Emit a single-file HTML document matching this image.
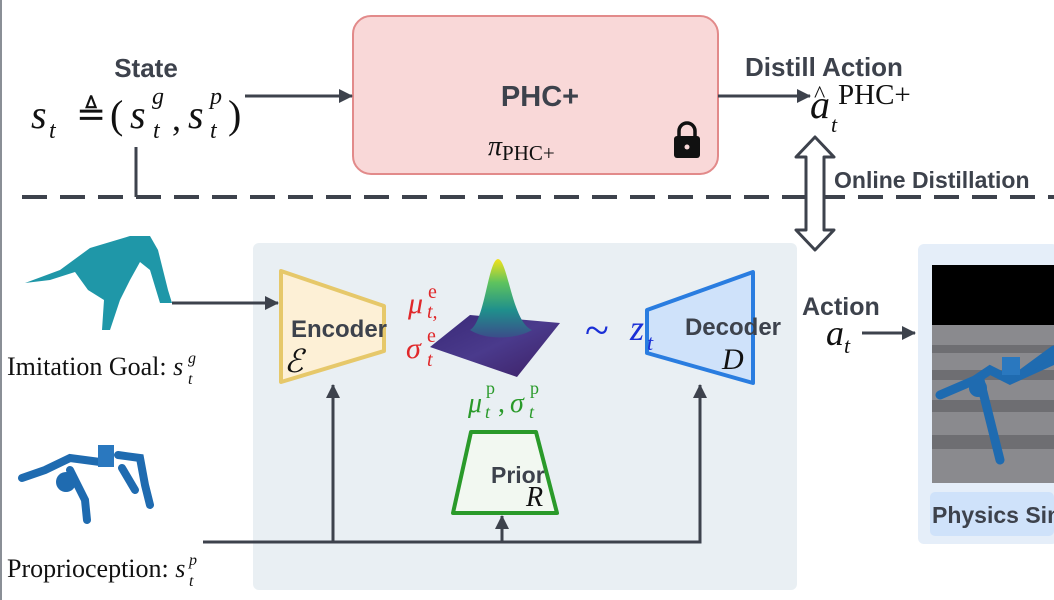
<!DOCTYPE html>
<html><head><meta charset="utf-8"><style>
html,body{margin:0;padding:0;background:#fff;}
svg{display:block;}
.sans{font-family:"Liberation Sans",sans-serif;font-weight:bold;fill:#3d424c;}
.serif{font-family:"Liberation Serif",serif;fill:#111;}
.it{font-style:italic;}
</style></head><body>
<svg width="1054" height="600" viewBox="0 0 1054 600" xmlns="http://www.w3.org/2000/svg">
<defs>
<marker id="ah2" markerWidth="14" markerHeight="14" refX="13" refY="7" orient="auto" markerUnits="userSpaceOnUse">
<path d="M0,0 L14,7 L0,14 z" fill="#3d424c"/></marker>
<linearGradient id="peak" x1="0" y1="0" x2="0" y2="1">
<stop offset="0" stop-color="#f3e21a"/><stop offset="0.3" stop-color="#5ec35e"/><stop offset="0.65" stop-color="#1f8f8c"/><stop offset="1" stop-color="#3b4d8a"/></linearGradient>
<linearGradient id="base" x1="0" y1="0" x2="1" y2="1">
<stop offset="0" stop-color="#3a2a78"/><stop offset="0.5" stop-color="#4a3a8c"/><stop offset="1" stop-color="#3d1f64"/></linearGradient>
</defs>
<rect x="0" y="0" width="2" height="600" fill="#8a8f96"/>
<!-- top -->
<rect x="353" y="16" width="365" height="158" rx="18" fill="#f9d8d8" stroke="#e28a8a" stroke-width="2"/>
<text x="540" y="106" text-anchor="middle" class="sans" font-size="29">PHC+</text>
<text x="488" y="155" class="serif it" font-size="28">π<tspan font-style="normal" font-size="21" dy="5">PHC+</tspan></text>
<g fill="#111"><rect x="674" y="136" width="26" height="22" rx="3"/><path d="M679,137 v-6 a8,8 0 0 1 16,0 v6" fill="none" stroke="#111" stroke-width="3.5"/><circle cx="687" cy="147" r="2.5" fill="#f9d8d8"/></g>
<text x="146" y="77" text-anchor="middle" class="sans" font-size="26">State</text>
<text x="31" y="128" class="serif it" font-size="40">s</text>
<text x="49" y="138" class="serif it" font-size="24">t</text>
<text x="76" y="126" class="serif" font-size="36">≜</text>
<text x="110" y="128" class="serif" font-size="40">(</text>
<text x="130" y="128" class="serif it" font-size="40">s</text>
<text x="152" y="104" class="serif it" font-size="24">g</text><text x="153" y="138" class="serif it" font-size="24">t</text>
<text x="172" y="130" class="serif" font-size="36">,</text>
<text x="188" y="128" class="serif it" font-size="40">s</text>
<text x="210" y="104" class="serif it" font-size="24">p</text><text x="210" y="138" class="serif it" font-size="24">t</text>
<text x="228" y="128" class="serif" font-size="40">)</text>
<line x1="245" y1="96" x2="352" y2="96" stroke="#3d424c" stroke-width="3" marker-end="url(#ah2)"/>
<line x1="136" y1="147" x2="136" y2="197" stroke="#3d424c" stroke-width="3"/>
<line x1="718" y1="96" x2="810" y2="96" stroke="#3d424c" stroke-width="3" marker-end="url(#ah2)"/>
<text x="745" y="76" class="sans" font-size="26">Distill Action</text>
<text x="810" y="118" class="serif it" font-size="40">a</text>
<text x="814" y="102" class="serif" font-size="24">^</text>
<text x="838" y="104" class="serif" font-size="29">PHC+</text>
<text x="831" y="132" class="serif it" font-size="22">t</text>
<line x1="22" y1="197" x2="1054" y2="197" stroke="#3d424c" stroke-width="4" stroke-dasharray="25 13"/>
<path d="M815,137 L834,157 L824,157 L824,230 L834,230 L815,250 L796,230 L806,230 L806,157 L796,157 Z" fill="#fff" stroke="#3d424c" stroke-width="3" stroke-linejoin="round"/>
<text x="834" y="188" class="sans" font-size="23">Online Distillation</text>
<!-- panel -->
<rect x="253" y="243" width="544" height="347" rx="6" fill="#e9eff3"/>
<polygon points="281,271 384,306 384,351 281,382" fill="#fdf0d6" stroke="#e6c86a" stroke-width="4" stroke-linejoin="round"/>
<text x="339" y="337" text-anchor="middle" class="sans" font-size="24">Encoder</text>
<text x="284" y="372" class="serif it" font-size="32">ℰ</text>
<polygon points="647,310 753,272 753,383 647,353" fill="#cfe2fa" stroke="#2a7de0" stroke-width="4" stroke-linejoin="round"/>
<text x="733" y="335" text-anchor="middle" class="sans" font-size="24">Decoder</text>
<text x="722" y="369" class="serif it" font-size="30">D</text>
<polygon points="471,432 536,432 557,513 453,513" fill="#f2f8f1" stroke="#2a9a2a" stroke-width="4" stroke-linejoin="round"/>
<text x="491" y="483" class="sans" font-size="23">Prior</text>
<text x="526" y="506" class="serif it" font-size="28">R</text>
<!-- gaussian -->
<polygon points="430,347 470,315 560,323 517,377" fill="url(#base)"/>
<path d="M470,330 C485,322 488,260 498,259 C508,260 512,322 532,330 C515,340 485,340 470,330 Z" fill="url(#peak)"/>
<text x="408" y="313" class="serif it" font-size="30" style="fill:#e0282a">μ</text>
<text x="428" y="298" class="serif" font-size="20" style="fill:#e0282a">e</text>
<text x="427" y="318" class="serif it" font-size="20" style="fill:#e0282a">t,</text>
<text x="406" y="358" class="serif it" font-size="30" style="fill:#e0282a">σ</text>
<text x="427" y="342" class="serif" font-size="20" style="fill:#e0282a">e</text>
<text x="427" y="366" class="serif it" font-size="20" style="fill:#e0282a">t</text>
<text x="468" y="412" class="serif it" font-size="28" style="fill:#2a9a2a">μ</text>
<text x="486" y="394" class="serif" font-size="18" style="fill:#2a9a2a">p</text>
<text x="485" y="418" class="serif it" font-size="18" style="fill:#2a9a2a">t</text>
<text x="498" y="412" class="serif" font-size="28" style="fill:#2a9a2a">,</text>
<text x="510" y="412" class="serif it" font-size="28" style="fill:#2a9a2a">σ</text>
<text x="530" y="394" class="serif" font-size="18" style="fill:#2a9a2a">p</text>
<text x="529" y="418" class="serif it" font-size="18" style="fill:#2a9a2a">t</text>
<text x="585" y="345" class="serif" font-size="44" style="fill:#1a2fd6">~</text>
<text x="630" y="340" class="serif it" font-size="36" style="fill:#1a2fd6">z</text>
<text x="647" y="350" class="serif it" font-size="22" style="fill:#1a2fd6">t</text>
<!-- connectors -->
<line x1="172" y1="303" x2="278" y2="303" stroke="#3d424c" stroke-width="3" marker-end="url(#ah2)"/>
<path d="M203,542 L700,542 L700,385" fill="none" stroke="#3d424c" stroke-width="3" marker-end="url(#ah2)"/>
<line x1="333" y1="542" x2="333" y2="385" stroke="#3d424c" stroke-width="3" marker-end="url(#ah2)"/>
<line x1="502" y1="542" x2="502" y2="516" stroke="#3d424c" stroke-width="3" marker-end="url(#ah2)"/>
<text x="802" y="315" class="sans" font-size="25">Action</text>
<text x="826" y="345" class="serif it" font-size="36">a</text>
<text x="844" y="353" class="serif it" font-size="22">t</text>
<line x1="862" y1="333" x2="915" y2="333" stroke="#3d424c" stroke-width="3" marker-end="url(#ah2)"/>
<!-- sim panel -->
<rect x="918" y="244" width="140" height="300" rx="6" fill="#e5eef9"/>
<rect x="932" y="265" width="122" height="60" fill="#000"/>
<rect x="932" y="325" width="122" height="158" fill="#8a8a8e"/>
<g fill="#6e6e72"><rect x="932" y="345" width="122" height="8"/><rect x="932" y="370" width="122" height="10"/><rect x="932" y="400" width="122" height="12"/><rect x="932" y="435" width="122" height="14"/></g>
<g stroke="#1f6bb0" stroke-width="9" stroke-linecap="round" fill="none"><path d="M940,395 L975,380 L990,370 L1010,380 L1054,360"/><path d="M980,380 L990,420 L1000,460"/><path d="M1020,375 L1054,350"/></g>
<circle cx="978" cy="388" r="9" fill="#1f6bb0"/>
<rect x="1002" y="357" width="18" height="18" fill="#2a78bf"/>
<rect x="930" y="492" width="124" height="44" rx="5" fill="#cfe2fa"/>
<text x="932" y="523" class="sans" font-size="23">Physics Sim</text>
<!-- left figures -->
<g fill="#1f97a8"><path d="M25,283 L60,270 L90,248 L130,236 L150,236 L158,250 L168,290 L172,303 L160,303 L150,270 L140,262 L130,280 L120,300 L110,330 L102,330 L104,300 L88,290 L75,272 L50,280 Z"/></g>
<text x="7" y="375" class="serif" font-size="26">Imitation Goal: <tspan font-style="italic">s</tspan></text>
<text x="188" y="363" class="serif it" font-size="16">g</text><text x="188" y="384" class="serif it" font-size="16">t</text>
<g stroke="#1f6bb0" stroke-width="8" stroke-linecap="round" fill="none"><path d="M22,478 L45,470 L70,458 L100,462"/><path d="M70,470 L85,500 L87,520"/><path d="M118,455 L140,458 L145,485 L150,505"/><path d="M122,468 L135,490"/></g>
<circle cx="66" cy="482" r="10" fill="#1f6bb0"/>
<rect x="98" y="445" width="16" height="22" fill="#2a78bf"/>
<text x="7" y="577" class="serif" font-size="26">Proprioception: <tspan font-style="italic">s</tspan></text>
<text x="189" y="565" class="serif it" font-size="16">p</text><text x="189" y="586" class="serif it" font-size="16">t</text>
</svg>
</body></html>
